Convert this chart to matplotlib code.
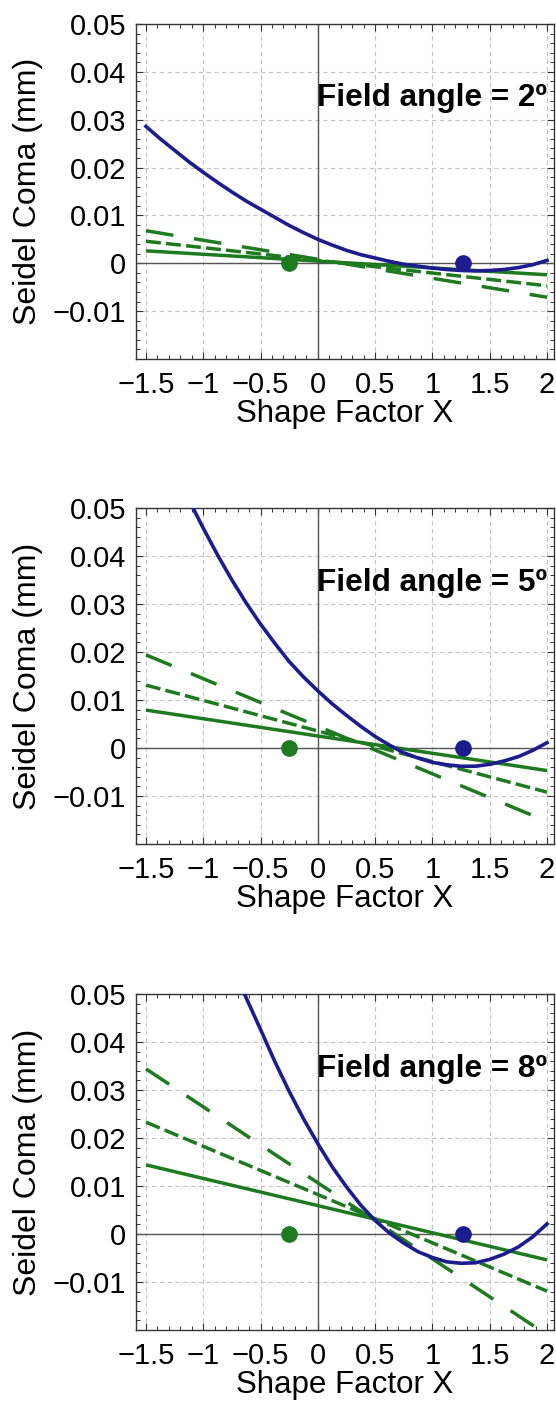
import matplotlib
matplotlib.use("Agg")
import matplotlib.pyplot as plt
import numpy as np

plt.rcParams['font.family'] = ['Liberation Sans', 'DejaVu Sans']

# field angles of the three panels
angles = [2, 5, 8]

# blue curves
blue_x = [
    [-1.5, -1.375, -1.25, -1.125, -1.0, -0.875, -0.75, -0.625, -0.5, -0.375, -0.25, -0.125, 0.0,
     0.125, 0.25, 0.375, 0.5, 0.625, 0.75, 0.875, 1.0, 1.125, 1.25, 1.375, 1.5, 1.625, 1.75, 1.875, 2.0],
    [-1.1, -1.0, -0.875, -0.75, -0.625, -0.5, -0.375, -0.25, -0.125, 0.0,
     0.125, 0.25, 0.375, 0.5, 0.625, 0.75, 0.875, 1.0, 1.125, 1.25, 1.375, 1.5, 1.625, 1.75, 1.875, 2.0],
    [-0.65, -0.5, -0.375, -0.25, -0.125, 0.0,
     0.125, 0.25, 0.375, 0.5, 0.625, 0.75, 0.875, 1.0, 1.125, 1.25, 1.375, 1.5, 1.625, 1.75, 1.875, 2.0],
]
blue_y = [
    [0.0286, 0.0260, 0.0236, 0.0212, 0.0190, 0.0169, 0.0149, 0.0130, 0.0113, 0.0096, 0.0079, 0.0064, 0.0050,
     0.0038, 0.0027, 0.0018, 0.0011, 0.0004, -0.0002, -0.0006, -0.0010, -0.0013, -0.0015, -0.0016, -0.0015,
     -0.0013, -0.0009, -0.0003, 0.0006],
    [0.0505, 0.0458, 0.0402, 0.0350, 0.0302, 0.0258, 0.0218, 0.0180, 0.0148, 0.0119,
     0.0092, 0.0068, 0.0045, 0.0024, 0.0006, -0.0010, -0.0021, -0.0030, -0.0035, -0.0038, -0.0038, -0.0034,
     -0.0027, -0.0018, -0.0005, 0.0011],
    [0.0505, 0.0426, 0.0359, 0.0297, 0.0240, 0.0188,
     0.0140, 0.0098, 0.0060, 0.0028, 0.0002, -0.0019, -0.0037, -0.0049, -0.0058, -0.0061, -0.0060, -0.0053,
     -0.0042, -0.0027, -0.0006, 0.0021],
]

# green straight lines, values at x = -1.5 and x = 2
green_x = [-1.5, 2.0]
green_solid = [[0.0026, -0.0024], [0.0079, -0.0047], [0.0144, -0.0054]]
green_short = [[0.0046, -0.0047], [0.0131, -0.0092], [0.0233, -0.0119]]
green_long = [[0.0068, -0.0071], [0.0194, -0.0153], [0.0344, -0.0210]]

# the two dots
green_dot = (-0.25, 0.0)
blue_dot = (1.27, 0.0)

xticks = [-1.5, -1, -0.5, 0, 0.5, 1, 1.5, 2]
xticklabels = ["\u22121.5", "\u22121", "\u22120.5", "0", "0.5", "1", "1.5", "2"]
yticks = [-0.01, 0, 0.01, 0.02, 0.03, 0.04, 0.05]
yticklabels = ["\u22120.01", "0", "0.01", "0.02", "0.03", "0.04", "0.05"]

blue = "#1c1c8f"
green = "#1e7a1e"

fig = plt.figure(figsize=(5.56, 14.04), dpi=100)

# axes boxes in pixels: top, bottom
W, H = 556.0, 1404.0
boxes = [(24, 359), (508, 844), (994, 1330)]
left, right = 136, 554

for i, (top, bottom) in enumerate(boxes):
    ax = fig.add_axes([left / W, 1 - bottom / H, (right - left) / W, (bottom - top) / H])

    # grid and the axes through zero
    ax.grid(True, which='major', linestyle=(0, (4, 3)), color='#c4c4c4', linewidth=0.8)
    ax.set_axisbelow(True)
    ax.axhline(0, color='#555555', linewidth=1.0, zorder=1.5)
    ax.axvline(0, color='#555555', linewidth=1.0, zorder=1.5)

    # green lines
    ax.plot(green_x, green_solid[i], color=green, linewidth=2.5, solid_capstyle='butt', zorder=2)
    ax.plot(green_x, green_short[i], color=green, linewidth=2.5, dashes=(4.3, 1.5), zorder=2)
    ax.plot(green_x, green_long[i], color=green, linewidth=2.5, dashes=(8, 6), zorder=2)

    # blue curve
    ax.plot(blue_x[i], blue_y[i], color=blue, linewidth=2.6, zorder=3)

    # dots
    ax.plot(*green_dot, 'o', color=green, markersize=11, zorder=4)
    ax.plot(*blue_dot, 'o', color=blue, markersize=11, zorder=4)

    ax.text(2.0, 0.0328, "Field angle = %d\u00ba" % angles[i], fontsize=22.7, fontweight='bold',
            ha='right', va='baseline', zorder=5)

    ax.set_xlim(-1.587, 2.061)
    ax.set_ylim(-0.02, 0.05)
    ax.set_xticks(xticks)
    ax.set_xticklabels(xticklabels)
    ax.set_yticks(yticks)
    ax.set_yticklabels(yticklabels)
    ax.set_xticks(np.arange(-1.5, 2.05, 0.1), minor=True)
    ax.set_yticks(np.arange(-0.02, 0.0505, 0.002), minor=True)

    ax.tick_params(which='both', direction='in', top=True, right=True, colors='#333333', labelcolor='black')
    ax.tick_params(which='major', length=5, width=0.8, labelsize=21)
    ax.tick_params(which='minor', length=2.8, width=0.7)
    ax.tick_params(axis='x', which='major', pad=8.5)
    ax.tick_params(axis='y', which='major', pad=7)

    for s in ax.spines.values():
        s.set_color('#333333')
        s.set_linewidth(1.0)

    ax.set_xlabel("Shape Factor X", fontsize=22.5, labelpad=0)
    ax.set_ylabel("Seidel Coma (mm)", fontsize=23, labelpad=7)

fig.savefig("out.png", dpi=100)
